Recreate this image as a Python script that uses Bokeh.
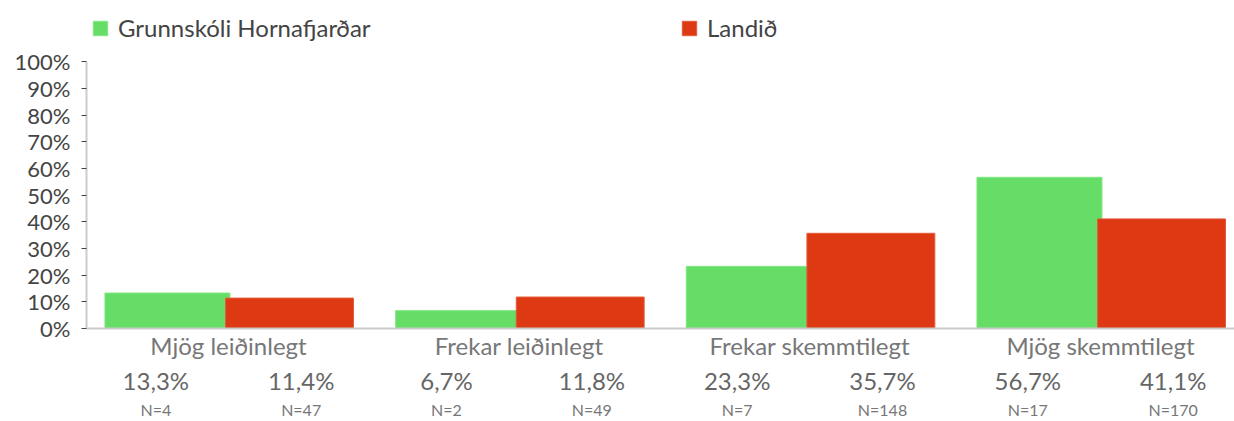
from bokeh.plotting import figure
from bokeh.models import (Range1d, FixedTicker, PrintfTickFormatter, Legend, LegendItem,
                          LinearAxis, ColumnDataSource)
from bokeh.embed import file_html
from bokeh.resources import INLINE

categories = ["Mjög leiðinlegt", "Frekar leiðinlegt", "Frekar skemmtilegt", "Mjög skemmtilegt"]
series_names = ["Grunnskóli Hornafjarðar", "Landið"]
school_pct = [13.3, 6.7, 23.3, 56.7]
national_pct = [11.4, 11.8, 35.7, 41.1]
school_n = [4, 2, 7, 17]
national_n = [47, 49, 148, 170]
y_ticks = list(range(0, 101, 10))

GREEN = "#66dd66"
RED = "#dd3913"
FONT = "Lato"

idx = list(range(len(categories)))
src_s = ColumnDataSource(dict(x=[i - 0.21 for i in idx], y=school_pct))
src_n = ColumnDataSource(dict(x=[i + 0.21 for i in idx], y=national_pct))


def fmt_pct(v):
    return f"{v:.1f}".replace(".", ",") + "%"


lab_pos, pct_text, n_text = [], {}, {}
for i in idx:
    for off, pv, nv in ((-0.25, school_pct[i], school_n[i]), (0.25, national_pct[i], national_n[i])):
        pos = i + off
        lab_pos.append(pos)
        pct_text[pos] = fmt_pct(pv)
        n_text[pos] = f"N={nv}"

p = figure(width=1234, height=421, output_backend="svg", toolbar_location=None,
           x_range=Range1d(-0.4885, 3.461), y_range=Range1d(0, 123.0),
           min_border_left=86, min_border_right=0, min_border_top=0, min_border_bottom=91)
p.outline_line_color = None
p.xgrid.visible = False
p.ygrid.visible = False

r1 = p.vbar(x="x", top="y", width=0.43, source=src_s, fill_color=GREEN, line_color="#80e880", line_width=1)
r2 = p.vbar(x="x", top="y", width=0.44, source=src_n, fill_color=RED, line_color="#e65a3a", line_width=1)

# y axis
p.yaxis.ticker = FixedTicker(ticks=y_ticks)
p.yaxis.bounds = (0, 100)
p.yaxis.formatter = PrintfTickFormatter(format="%d%%")
p.yaxis.axis_line_color = "#cccccc"
p.yaxis.axis_line_width = 2
p.yaxis.major_tick_out = 5
p.yaxis.major_tick_in = 0
p.yaxis.major_tick_line_color = "#444444"
p.yaxis.minor_tick_line_color = None
p.yaxis.major_label_standoff = 11
p.yaxis.major_label_text_font = FONT
p.yaxis.major_label_text_font_size = "22px"
p.yaxis.major_label_text_color = "#444444"

# x axis with category names
p.xaxis.ticker = FixedTicker(ticks=idx)
p.xaxis.major_label_overrides = {i: c for i, c in zip(idx, categories)}
p.xaxis.axis_line_color = "#cccccc"
p.xaxis.axis_line_width = 2
p.xaxis.major_tick_out = 0
p.xaxis.major_tick_in = 0
p.xaxis.minor_tick_line_color = None
p.xaxis.major_label_standoff = 2
p.xaxis.major_label_text_font = FONT
p.xaxis.major_label_text_font_size = "24px"
p.xaxis.major_label_text_color = "#777777"

# percent row and N row as extra bottom axes
for texts, size, standoff, color in ((pct_text, "24px", 3, "#666666"),
                                      (n_text, "16px", 2, "#777777")):
    ax = LinearAxis(ticker=FixedTicker(ticks=lab_pos), major_label_overrides=texts,
                    axis_line_color=None, major_tick_line_color=None,
                    minor_tick_line_color=None, major_tick_out=0, major_tick_in=0,
                    major_label_standoff=standoff, major_label_text_font=FONT,
                    major_label_text_font_size=size, major_label_text_color=color)
    p.add_layout(ax, "below")

legend = Legend(items=[LegendItem(label=series_names[0], renderers=[r1]),
                       LegendItem(label=series_names[1], renderers=[r2])],
                orientation="horizontal", location=(5, 286),
                glyph_width=18, glyph_height=18, label_standoff=9, label_width=562,
                spacing=0, padding=0, margin=0, border_line_color=None,
                background_fill_alpha=0, label_text_font=FONT,
                label_text_font_size="24px", label_text_color="#444444")
p.add_layout(legend, "center")

open("out.html", "w").write(file_html(p, INLINE))
